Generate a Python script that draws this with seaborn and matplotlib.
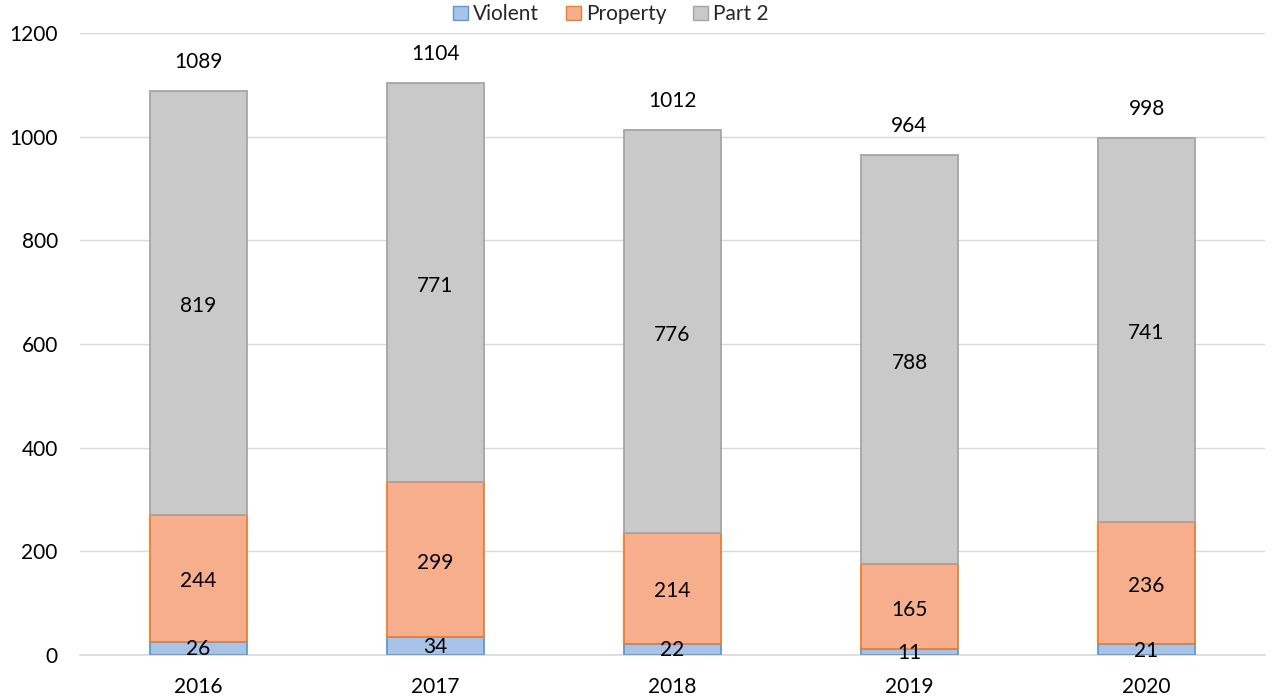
import pandas as pd
import matplotlib.pyplot as plt
import seaborn as sns
from matplotlib.patches import Patch

years = ['2016', '2017', '2018', '2019', '2020']
violent = [26, 34, 22, 11, 21]
property_ = [244, 299, 214, 165, 236]
part2 = [819, 771, 776, 788, 741]
totals = [1089, 1104, 1012, 964, 998]

sns.set_style("white")
plt.rcParams['font.family'] = ['Lato', 'DejaVu Sans']
fs = 15

fig = plt.figure(figsize=(12.86, 6.99), dpi=100)
ax = fig.add_axes([80 / 1286, 44 / 699, 1185 / 1286, 622 / 699])

colors = {'Violent': ('#a7c3e8', '#5b9bd5'),
          'Property': ('#f6ae8c', '#ed7d31'),
          'Part 2': ('#c9c9c9', '#a5a5a5')}

bottom2 = [v + p for v, p in zip(violent, property_)]
series = [('Violent', violent, [0] * 5, -2),
          ('Property', property_, violent, -6),
          ('Part 2', part2, bottom2, -6)]

for name, vals, bot, off in series:
    fc, ec = colors[name]
    sns.barplot(x=years, y=vals, bottom=bot, color=fc, edgecolor=ec,
                linewidth=1.3, width=0.41, saturation=1, ax=ax, zorder=3)
    # value labels in the middle of each segment
    for i, (v, b) in enumerate(zip(vals, bot)):
        ax.text(i, b + v / 2 + off, str(v), ha='center', va='center',
                fontsize=fs, color='black', zorder=4)

for i, t in enumerate(totals):
    ax.text(i, t + 56, str(t), ha='center', va='center', fontsize=fs, color='black')

ax.set_ylim(0, 1200)
ax.set_xlim(-0.5, 4.5)
ax.set_yticks(range(0, 1201, 200))
ax.yaxis.grid(True, color='#d9d9d9', linewidth=1, zorder=0)
ax.set_axisbelow(True)
for s in ['top', 'right', 'left']:
    ax.spines[s].set_visible(False)
ax.spines['bottom'].set_color('#d9d9d9')
ax.spines['bottom'].set_linewidth(1.2)
ax.tick_params(axis='both', length=0, labelsize=fs, colors='black')
ax.tick_params(axis='y', pad=16)
ax.tick_params(axis='x', pad=16)
ax.set_xlabel('')
ax.set_ylabel('')

handles = [Patch(facecolor=colors[n][0], edgecolor=colors[n][1], label=n) for n in colors]
ax.legend(handles=handles, loc='upper center', bbox_to_anchor=(0.448, 1.076), ncol=3,
          frameon=False, fontsize=fs, handlelength=0.7, handleheight=0.7,
          handletextpad=0.25, columnspacing=1.3)

fig.savefig('out.png', dpi=100)
